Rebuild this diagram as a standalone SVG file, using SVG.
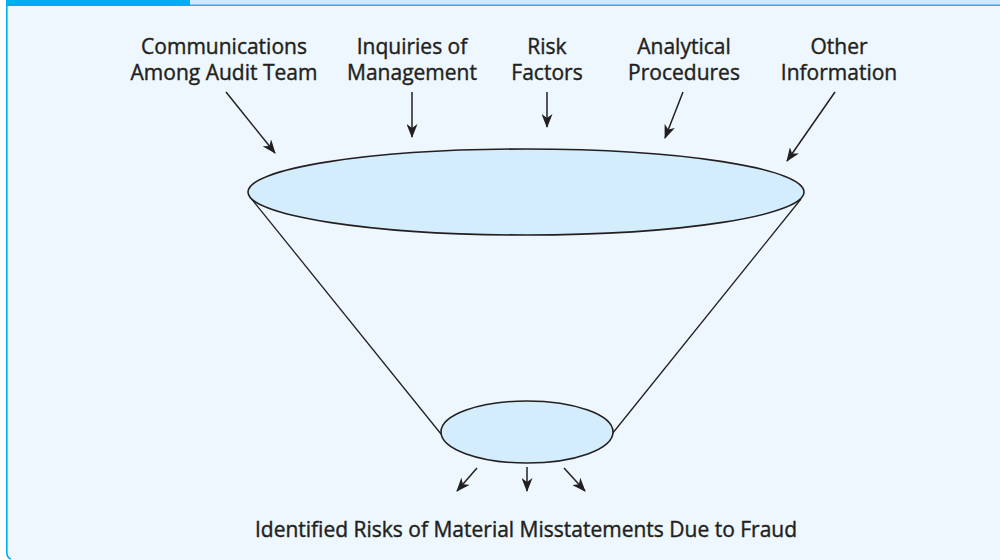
<svg xmlns="http://www.w3.org/2000/svg" width="1000" height="560" viewBox="0 0 1000 560">
  <style>
    .lbl { font-family: "Open Sans", "Liberation Sans", sans-serif; font-size: 21px; fill: #231f20; stroke: #231f20; stroke-width: 0.4; text-anchor: middle; }
    .shape { fill: #d3edfc; stroke: #231f20; stroke-width: 1.6; }
    .cone { fill: none; stroke: #231f20; stroke-width: 1.3; }
    .arr { stroke: #231f20; stroke-width: 1.5; fill: none; marker-end: url(#ah); }
  </style>
  <defs>
    <marker id="ah" markerWidth="14" markerHeight="11" viewBox="0 0 14 11" refX="13" refY="5.5" orient="auto" markerUnits="userSpaceOnUse">
      <path d="M0,0 L14,5.5 L0,11 L4,5.5 Z" fill="#231f20"/>
    </marker>
  </defs>
  <rect x="0" y="0" width="1000" height="560" fill="#ffffff"/>
  <path d="M6,0 H1000 V560 H12 Q6,560 6,554 Z" fill="#edf7fd"/>
  <rect x="190" y="0" width="810" height="4.5" fill="#cdeaf9"/>
  <rect x="190" y="4.5" width="810" height="1.5" fill="#29abe2"/>
  <rect x="6" y="0" width="184" height="6" fill="#00aeef"/>
  <path d="M6.8,0 V552 Q6.8,558 11,559" fill="none" stroke="#00aeef" stroke-width="1.6"/>

  <g id="funnel">
    <line class="cone" x1="250" y1="197" x2="441" y2="434"/>
    <line class="cone" x1="801" y1="199" x2="612" y2="434"/>
    <ellipse class="shape" cx="526" cy="192" rx="278" ry="43"/>
  </g>
  <g id="result-ellipse">
    <ellipse class="shape" cx="527" cy="432" rx="86" ry="31"/>
  </g>

  <g id="communications">
    <text class="lbl" x="224" y="54">Communications</text>
    <text class="lbl" x="224" y="80">Among Audit Team</text>
  </g>
  <g id="inquiries">
    <text class="lbl" x="412" y="54">Inquiries of</text>
    <text class="lbl" x="412" y="80">Management</text>
  </g>
  <g id="risk-factors">
    <text class="lbl" x="547" y="54">Risk</text>
    <text class="lbl" x="547" y="80">Factors</text>
  </g>
  <g id="analytical">
    <text class="lbl" x="684" y="54">Analytical</text>
    <text class="lbl" x="684" y="80">Procedures</text>
  </g>
  <g id="other">
    <text class="lbl" x="839" y="54">Other</text>
    <text class="lbl" x="839" y="80">Information</text>
  </g>
  <g id="identified-risks">
    <text class="lbl" x="526" y="537">Identified Risks of Material Misstatements Due to Fraud</text>
  </g>

  <g id="connectors">
    <line class="arr" x1="226" y1="92" x2="275" y2="153"/>
    <line class="arr" x1="412" y1="92" x2="412" y2="137"/>
    <line class="arr" x1="547" y1="92" x2="547" y2="127"/>
    <line class="arr" x1="683" y1="92" x2="665" y2="138"/>
    <line class="arr" x1="835" y1="92" x2="787" y2="161"/>
    <line class="arr" x1="477" y1="468" x2="457" y2="491"/>
    <line class="arr" x1="527" y1="467" x2="527" y2="491"/>
    <line class="arr" x1="564" y1="468" x2="585" y2="491"/>
  </g>
</svg>
